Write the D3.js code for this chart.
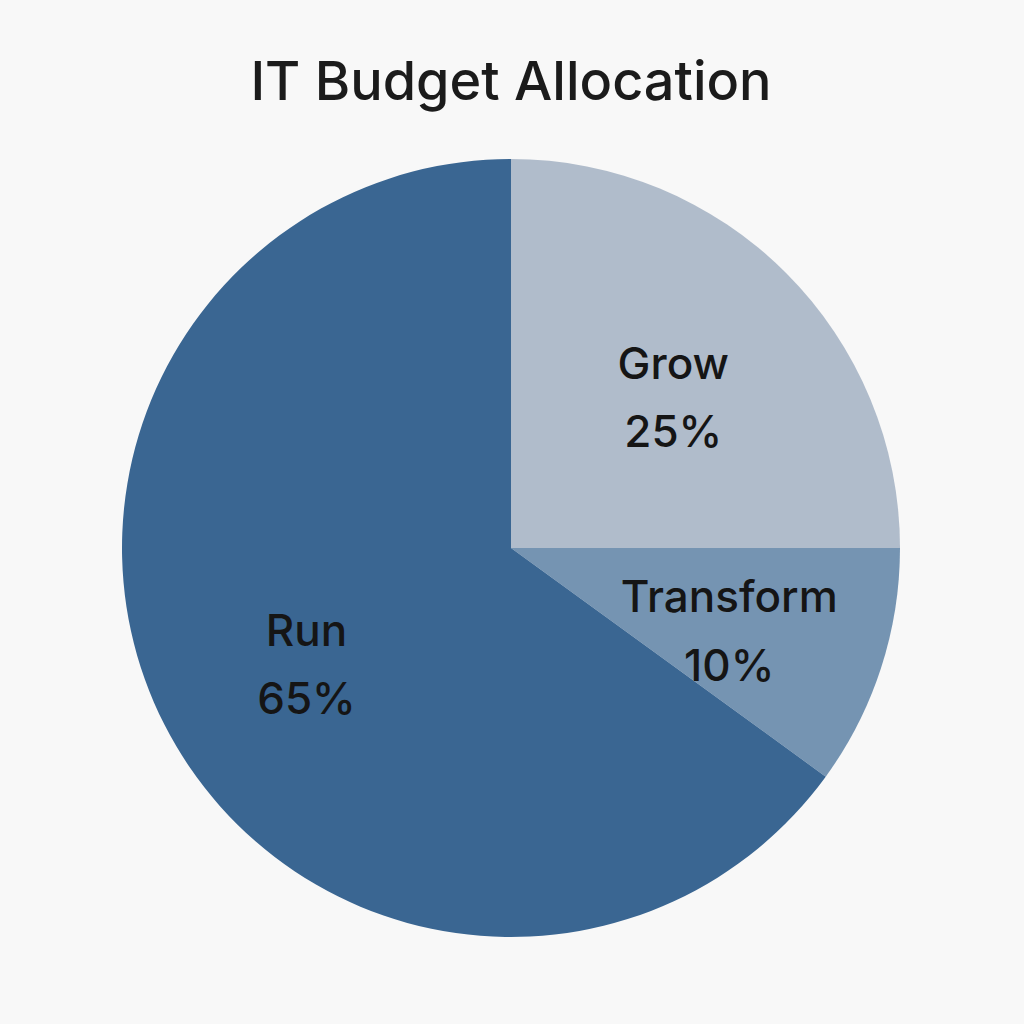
<!DOCTYPE html>
<html><head><meta charset="utf-8">
<script src="https://cdn.jsdelivr.net/npm/d3@7"></script>
<style>body{margin:0;background:#f8f8f8;}svg{display:block;}</style>
</head><body>
<svg id="c" width="1024" height="1024"></svg>
<script>
const categories = ["Grow", "Transform", "Run"];
const values = [25, 10, 65];
const colors = ["#b0bccb", "#7594b2", "#3a6692"];

const svg = d3.select("#c");
svg.append("rect").attr("width",1024).attr("height",1024).attr("fill","#f8f8f8");
svg.append("text").attr("x",511).attr("y",100).attr("text-anchor","middle")
  .attr("font-family","Inter, 'Noto Sans', sans-serif").attr("font-size",54).attr("font-weight",500)
  .attr("fill","#1b1b1b").text("IT Budget Allocation");

const cx = 511, cy = 548, R = 389;
const data = categories.map((c,i)=>({c, v:values[i], col:colors[i]}));
const pie = d3.pie().value(d=>d.v).sort(null);
const arc = d3.arc().innerRadius(0).outerRadius(R);
const labelArc = d3.arc().innerRadius(R*0.59).outerRadius(R*0.59);
const g = svg.append("g").attr("transform",`translate(${cx},${cy})`);
const arcs = pie(data);
g.selectAll("path").data(arcs).join("path").attr("d",arc).attr("fill",d=>d.data.col);
const lab = g.selectAll("text").data(arcs).join("text")
  .attr("transform",d=>`translate(${labelArc.centroid(d)})`)
  .attr("text-anchor","middle").attr("font-family","Inter, 'Noto Sans', sans-serif")
  .attr("font-size",44).attr("font-weight",500).attr("fill","#151515");
lab.append("tspan").attr("x",0).attr("dy","-0.15em").text(d=>d.data.c);
lab.append("tspan").attr("x",0).attr("dy","1.55em").text(d=>d.data.v+"%");
</script>
</body></html>
